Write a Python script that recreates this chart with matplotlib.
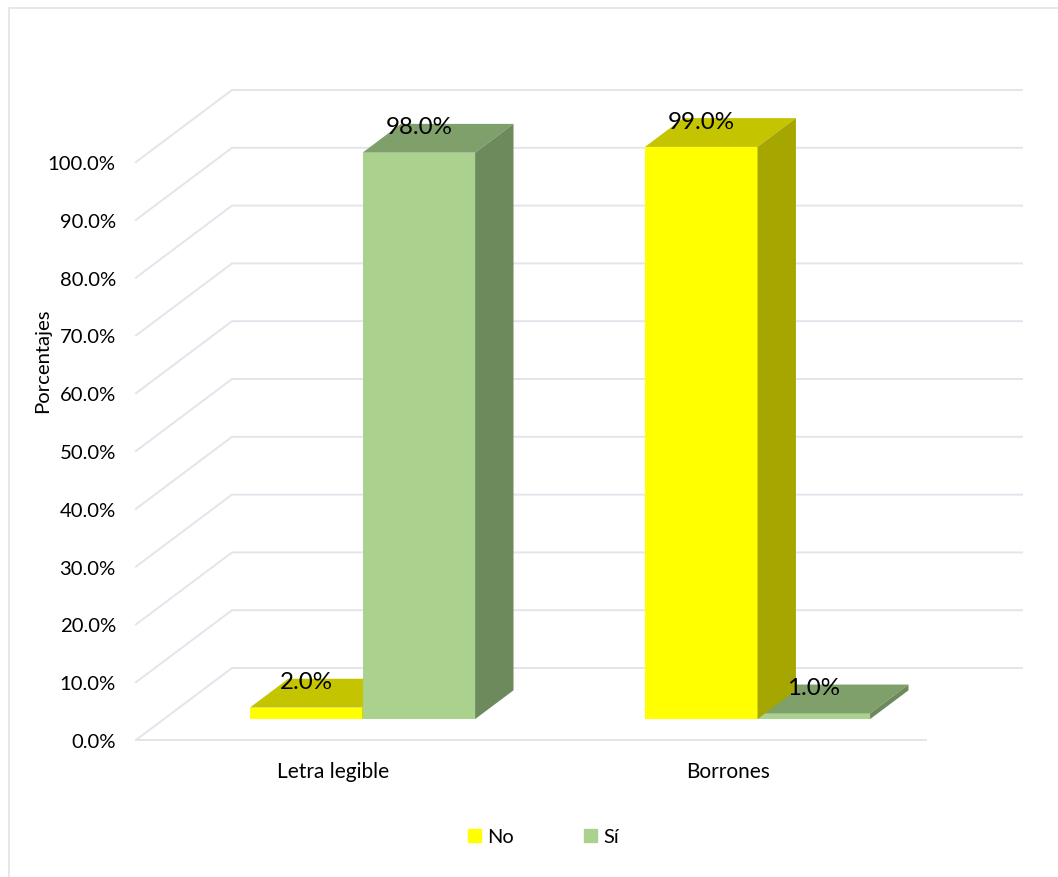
import matplotlib
matplotlib.use('Agg')
import matplotlib.pyplot as plt
from matplotlib.patches import Patch
from matplotlib.lines import Line2D

categories = ['Letra legible', 'Borrones']
no_values = [2.0, 99.0]
si_values = [98.0, 1.0]
y_ticks = [0, 10, 20, 30, 40, 50, 60, 70, 80, 90, 100]

W, H = 1058, 878
GRID = '#E3E5EC'

plt.rcParams['font.family'] = ['Lato', 'DejaVu Sans']

fig = plt.figure(figsize=(W / 100, H / 100), dpi=100)
# front plane of the 3d box, the floor and walls go back from here
ax = fig.add_axes([136 / W, 1 - 741 / H, 395 * 2 / W, 578 / H])
ax.set_xlim(0, 2)
ax.set_ylim(0, 100)
for s in ax.spines.values():
    s.set_visible(False)

# depth of the box in data units
dx = 96 / 395
dy = 72 / 5.78
bar_w = 0.285
bar_start = 0.218
z_front = 0.29
z_back = 0.69


def proj(x, y, z):
    return x + z * dx, y + z * dy


# walls
for t in y_ticks:
    x0, y0 = proj(0, t, 0)
    x1, y1 = proj(0, t, 1)
    x2, y2 = proj(2, t, 1)
    ax.plot([x0, x1, x2], [y0, y1, y2], color=GRID, lw=1.4, clip_on=False, zorder=1,
            solid_joinstyle='miter')
ax.plot([0, 2], [0, 0], color=GRID, lw=1.4, clip_on=False, zorder=1)


def draw_bar(x, v, front, top, side):
    x2 = x + bar_w
    pts = [proj(x, 0, z_front), proj(x2, 0, z_front), proj(x2, v, z_front), proj(x, v, z_front)]
    ax.fill(*zip(*pts), color=front, lw=0, clip_on=False, zorder=2)
    pts = [proj(x, v, z_front), proj(x2, v, z_front), proj(x2, v, z_back), proj(x, v, z_back)]
    ax.fill(*zip(*pts), color=top, lw=0, clip_on=False, zorder=2)
    pts = [proj(x2, 0, z_front), proj(x2, 0, z_back), proj(x2, v, z_back), proj(x2, v, z_front)]
    ax.fill(*zip(*pts), color=side, lw=0, clip_on=False, zorder=2)
    # value label sits over the top face
    lx, ly = proj(x + bar_w / 2, v, z_front)
    ax.annotate('%.1f%%' % v, (lx, ly), xytext=(0, 18.5), textcoords='offset points', ha='center',
                va='center', fontsize=17.4, color='black', zorder=5, annotation_clip=False)


yellow = ('#FFFF00', '#C4C400', '#A6A600')
green = ('#ABD18F', '#7F9F6B', '#6C8A5B')

for i in range(len(categories)):
    bars = [(no_values[i], i + bar_start, yellow), (si_values[i], i + bar_start + bar_w, green)]
    # shorter bar goes first so the taller one covers it
    for v, x, c in sorted(bars, key=lambda b: b[0]):
        draw_bar(x, v, c[0], c[1], c[2])

ax.set_yticks(y_ticks)
ax.set_yticklabels(['%.1f%%' % t for t in y_ticks], fontsize=14.6, color='black')
ax.set_xticks([0.5, 1.5])
ax.set_xticklabels(categories, fontsize=15, color='black')
ax.tick_params(axis='both', length=0)
ax.tick_params(axis='y', pad=14.5)
ax.tick_params(axis='x', pad=15)

fig.text(43 / W, 1 - 361 / H, 'Porcentajes', rotation=90, ha='center', va='center', fontsize=14.6)

handles = [Patch(color=yellow[0], label='No'), Patch(color=green[0], label='Sí')]
fig.legend(handles=handles, loc='center', bbox_to_anchor=(543.5 / W, 1 - 838 / H), ncol=2, frameon=False,
           fontsize=14.4, handlelength=0.65, handleheight=0.65, handletextpad=0.3, columnspacing=3.5)

# chart area outline, the right and bottom edges run off the figure
fig.add_artist(Line2D([9 / W, 9 / W, 1], [0, 1 - 8.5 / H, 1 - 8.5 / H], color=GRID, lw=1.3))

fig.savefig('out.png', dpi=100)
